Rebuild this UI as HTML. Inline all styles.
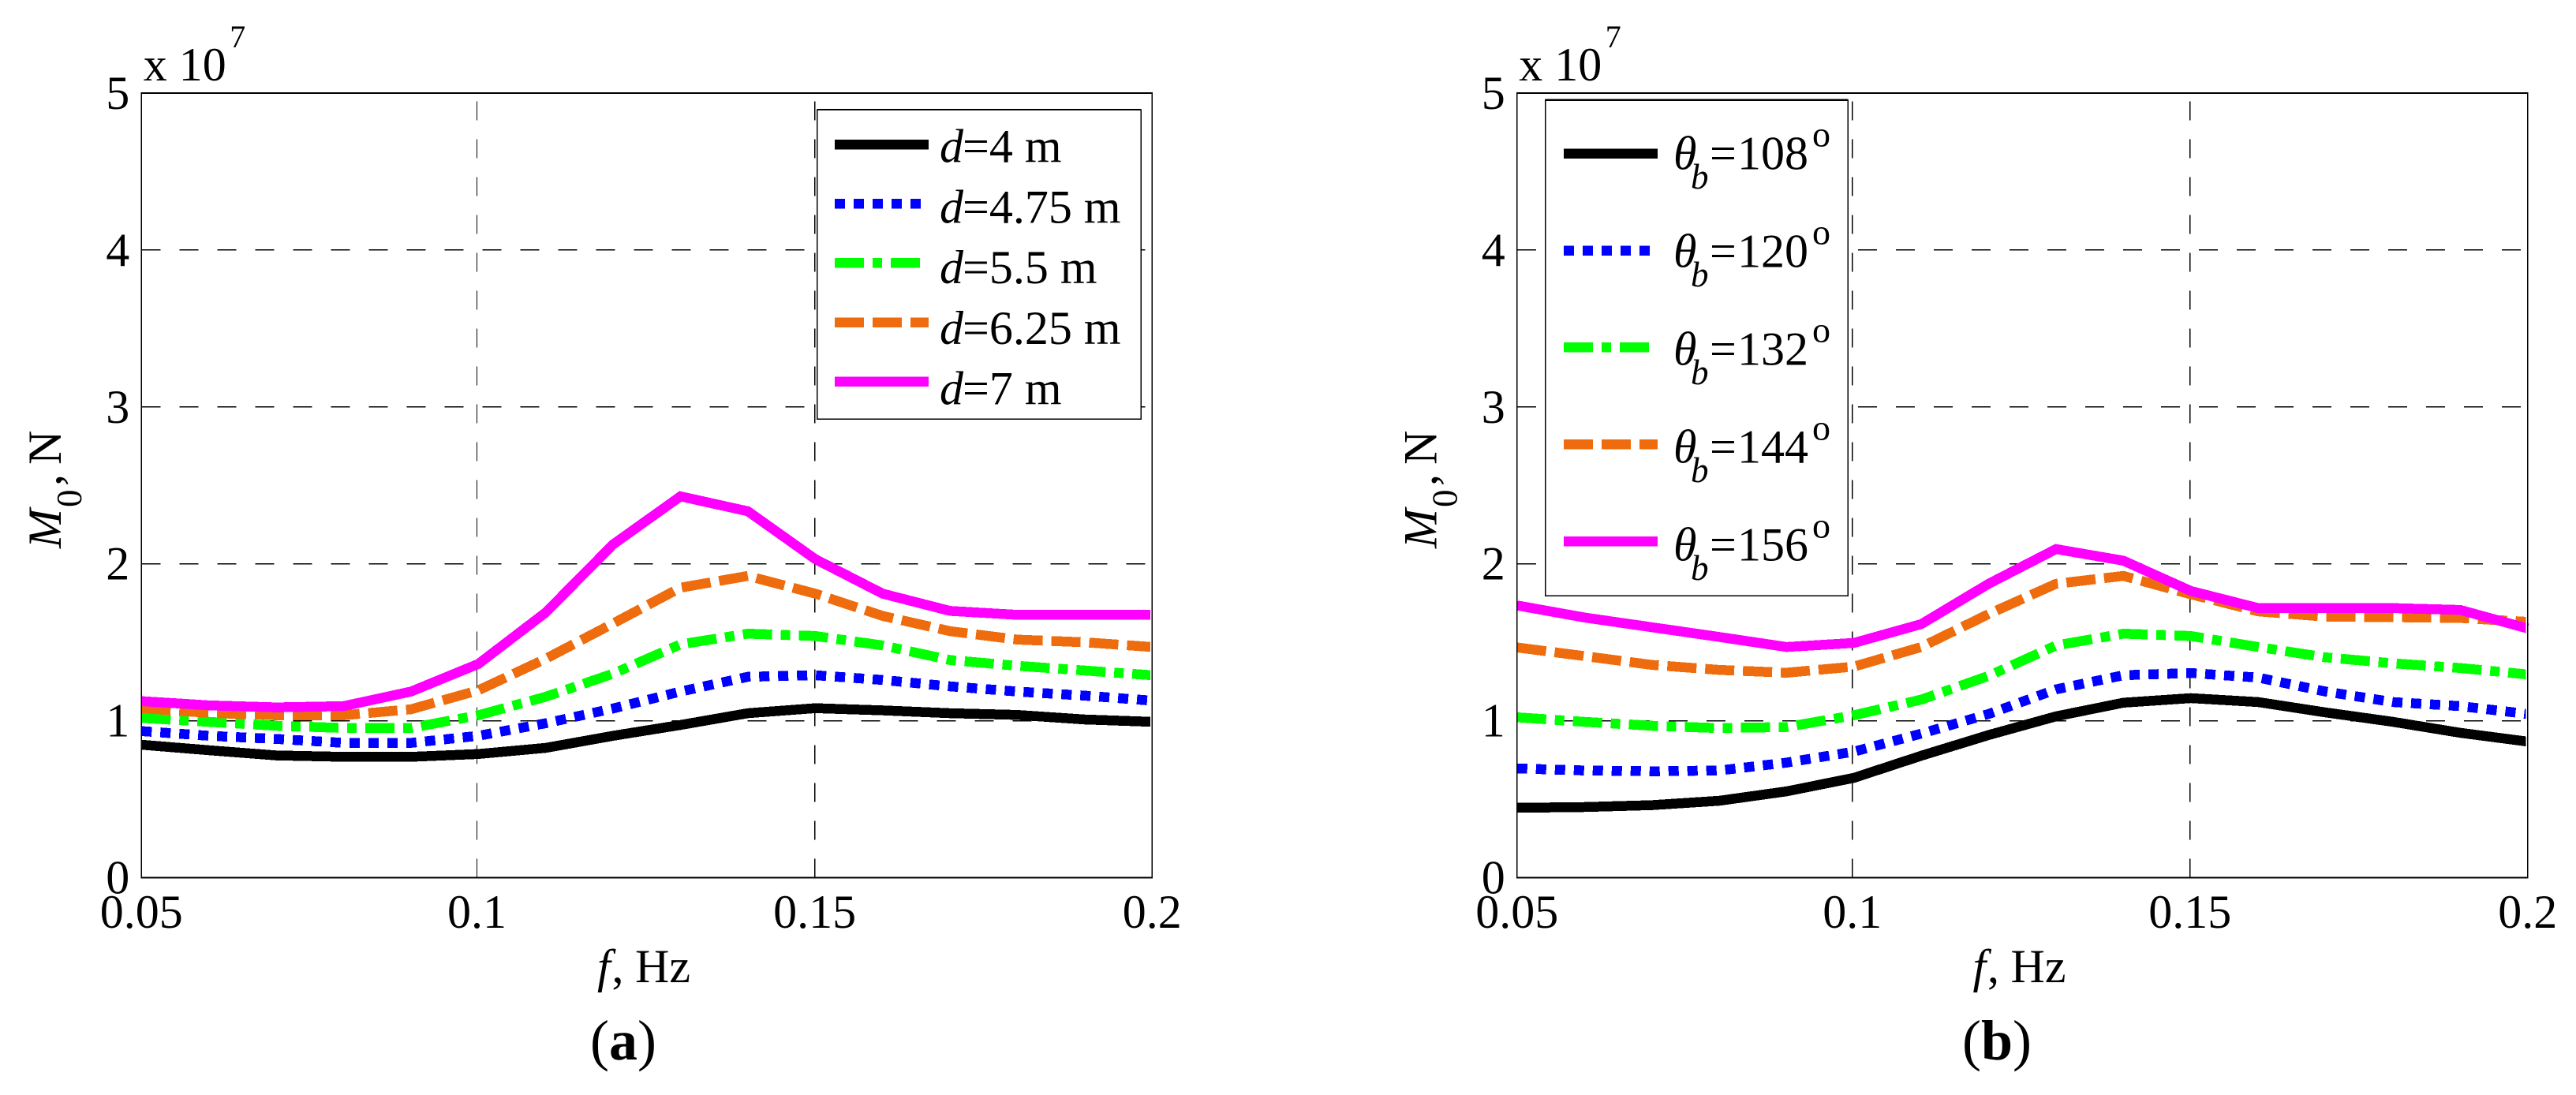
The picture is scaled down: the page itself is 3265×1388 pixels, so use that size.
<!DOCTYPE html>
<html lang="en">
<head>
<meta charset="utf-8">
<title>M0 versus frequency for varying d and theta_b</title>
<style>
  html, body { margin: 0; padding: 0; background: #ffffff; }
  svg { display: block; }
  text { font-family: "Liberation Serif", "Times New Roman", serif; fill: #000000; }
  line, path, rect { shape-rendering: crispEdges; }
</style>
</head>
<body>
<svg id="figure" xmlns="http://www.w3.org/2000/svg" width="3265" height="1388" viewBox="0 0 3265 1388">
  <rect x="0" y="0" width="3265" height="1388" fill="#ffffff"/>
</svg>
<script>
// ---- shared axis data ----
const frequencies = [0.05,0.06,0.07,0.08,0.09,0.10,0.11,0.12,0.13,0.14,0.15,0.16,0.17,0.18,0.19,0.20];
const xTickValues = [0.05,0.1,0.15,0.2];
const xTickLabels = ['0.05','0.1','0.15','0.2'];
const yTickValues = [0,1,2,3,4,5];
const yTickLabels = ['0','1','2','3','4','5'];

// ---- panel (a): M0 in units of 1e7 N, by water depth d ----
const panelALabels = ['4','4.75','5.5','6.25','7'];
const panelA_d4    = [0.847,0.812,0.779,0.770,0.770,0.788,0.827,0.904,0.973,1.048,1.080,1.066,1.048,1.037,1.008,0.993];
const panelA_d475  = [0.934,0.904,0.884,0.859,0.859,0.904,0.984,1.078,1.186,1.280,1.290,1.260,1.219,1.186,1.160,1.128];
const panelA_d55   = [1.018,0.993,0.968,0.954,0.954,1.035,1.153,1.300,1.487,1.555,1.540,1.480,1.387,1.350,1.320,1.290];
const panelA_d625  = [1.080,1.050,1.035,1.035,1.073,1.194,1.395,1.620,1.848,1.923,1.810,1.668,1.571,1.517,1.500,1.470];
const panelA_d7    = [1.125,1.098,1.085,1.093,1.186,1.362,1.690,2.124,2.430,2.335,2.030,1.810,1.700,1.675,1.675,1.675];

// ---- panel (b): M0 in units of 1e7 N, by angle theta_b ----
const panelBLabels = ['108','120','132','144','156'];
const panelB_t108  = [0.445,0.450,0.462,0.490,0.550,0.636,0.777,0.909,1.028,1.115,1.144,1.119,1.053,0.993,0.923,0.867];
const panelB_t120  = [0.696,0.683,0.678,0.683,0.733,0.803,0.918,1.043,1.200,1.290,1.304,1.275,1.186,1.119,1.093,1.043];
const panelB_t132  = [1.022,0.993,0.968,0.953,0.960,1.035,1.135,1.286,1.480,1.555,1.540,1.470,1.404,1.366,1.336,1.295];
const panelB_t144  = [1.467,1.412,1.356,1.324,1.306,1.345,1.470,1.680,1.873,1.923,1.806,1.697,1.663,1.660,1.655,1.630];
const panelB_t156  = [1.735,1.658,1.596,1.534,1.470,1.496,1.616,1.873,2.094,2.020,1.827,1.718,1.718,1.718,1.706,1.588];

// ---- series styling (order: solid black, dotted blue, dash-dot green, dashed orange, solid magenta) ----
const seriesColors = ['#000000','#0000ff','#00ff00','#ee6c0e','#ff00ff'];
const seriesDashes = ['none','13 11','37 11 12 11','37 11','none'];
const seriesKeys   = ['black','blue','green','orange','magenta'];

const NS = 'http://www.w3.org/2000/svg';
const svg = document.getElementById('figure');

function mk(tag, attrs, parent) {
  const n = document.createElementNS(NS, tag);
  for (const k in attrs) n.setAttribute(k, attrs[k]);
  (parent || svg).appendChild(n);
  return n;
}
function span(parent, str, attrs) {
  const t = mk('tspan', attrs, parent);
  t.textContent = str;
  return t;
}

function drawPanel(cfg) {
  const left = cfg.left, right = cfg.left + 1281, top = 118, bottom = 1112.5;
  const xScale = f => left + (f - 0.05) / 0.15 * (right - left);
  const yScale = v => bottom - v / 5 * (bottom - top);

  const g = mk('g', {});
  
  

  // plot background
  const bg = mk('rect', {x:left, y:top, width:right-left, height:bottom-top, fill:'#ffffff'}, g);
  
  

  // grid
  yTickValues.forEach((v) => {
    if (v === 0 || v === 5) return;
    const l = mk('line', {x1:left, x2:right, y1:yScale(v), y2:yScale(v), stroke:'#000', 'stroke-width':1.6, 'stroke-dasharray':'24 24'}, g);
    
    
  });
  xTickValues.forEach((f) => {
    if (f === 0.05 || f === 0.2) return;
    const l = mk('line', {x1:xScale(f) - cfg.gridNudge(f), x2:xScale(f) - cfg.gridNudge(f), y1:bottom, y2:top, stroke:'#000', 'stroke-width':1.4, 'stroke-dasharray':'24 24'}, g);
    
    
  });

  // series
  cfg.series.forEach((values, i) => {
    const d = values.map((v, j) => (j ? 'L' : 'M') + xScale(frequencies[j]).toFixed(2) + ' ' + yScale(v).toFixed(2)).join(' ');
    const p = mk('path', {d:d, fill:'none', stroke:seriesColors[i], 'stroke-width':12.5, 'stroke-dasharray':seriesDashes[i], 'stroke-linejoin':'miter', 'stroke-linecap':'butt'}, g);
    
    
  });
  // white mask so the curves stop just short of the right axis
  const mask = mk('rect', {x:right-2.5, y:top+1, width:2, height:bottom-top-2, fill:'#ffffff'}, g);
  
  

  // axes box
  const at = mk('line', {x1:left-0.7, x2:right+0.7, y1:top, y2:top, stroke:'#000', 'stroke-width':2.2}, g);
  
  
  const ab = mk('line', {x1:left-0.7, x2:right+0.7, y1:bottom, y2:bottom, stroke:'#000', 'stroke-width':2.2}, g);
  
  
  const al = mk('line', {x1:left, x2:left, y1:top, y2:bottom, stroke:'#000', 'stroke-width':1.6}, g);
  
  
  const ar = mk('line', {x1:right, x2:right, y1:top, y2:bottom, stroke:'#000', 'stroke-width':1.6}, g);
  
  

  // tick labels
  xTickValues.forEach((f, i) => {
    const t = mk('text', {x:xScale(f) - cfg.gridNudge(f), y:1176, 'font-size':60, 'text-anchor':'middle'}, g);
    t.textContent = xTickLabels[i];
    
    
  });
  yTickValues.forEach((v, i) => {
    const t = mk('text', {x:left-15, y:yScale(v)+20, 'font-size':60, 'text-anchor':'end'}, g);
    t.textContent = yTickLabels[i];
    
    
  });

  // exponent
  const ex = mk('text', {x:left+2.5, y:102, 'font-size':60}, g);
  ex.textContent = 'x 10';
  
  
  const ex7 = mk('text', {x:left+112, y:60, 'font-size':40}, g);
  ex7.textContent = '7';
  
  

  // y label
  const yl = mk('text', {transform:'translate(' + (left-102.5) + ',696) rotate(-90)', 'font-size':60}, g);
  span(yl, 'M', {x:1, y:0, 'font-style':'italic'});
  span(yl, '0', {x:53, y:26, 'font-size':45});
  span(yl, ',', {x:80, y:0});
  span(yl, 'N', {x:107, y:0});
  
  

  // x label
  const xo = left - 179.3;
  const xl = mk('text', {y:1245, 'font-size':60}, g);
  span(xl, 'f', {x:757+xo, y:1245, 'font-style':'italic'});
  span(xl, ',', {x:775.5+xo, y:1245});
  span(xl, 'Hz', {x:805+xo, y:1245});
  
  

  // caption
  const cap = mk('text', {x:cfg.captionX, y:1343, 'font-size':72}, g);
  span(cap, '(', {});
  span(cap, cfg.caption, {'font-weight':'bold'});
  span(cap, ')', {});
  
  

  // legend
  const lg = mk('g', {}, g);
  
  
  const L = cfg.legend;
  const box = mk('rect', {x:L.x, y:L.y, width:L.w, height:L.h, fill:'#ffffff', stroke:'#000', 'stroke-width':1.5}, lg);
  
  
  const boxTop = mk('line', {x1:L.x, x2:L.x+L.w, y1:L.y, y2:L.y, stroke:'#000', 'stroke-width':2.2}, lg);
  
  

  cfg.labels.forEach((label, i) => {
    const yLine = L.lineY + L.lineStep * i;
    const yText = L.textY + L.textStep * i;
    const sw = mk('line', {x1:L.lineX1, x2:L.lineX2, y1:yLine, y2:yLine, stroke:seriesColors[i], 'stroke-width':12.5, 'stroke-dasharray':seriesDashes[i]}, lg);
    
    
    const t = mk('text', {y:yText, 'font-size':60}, lg);
    cfg.legendText(t, label, yText);
    
    
  });
}

drawPanel({
  id: 'panel-a',
  left: 179.3,
  gridNudge: f => (f === 0.1 ? 1.8 : (f === 0.15 ? 0.7 : 0)),
  series: [panelA_d4, panelA_d475, panelA_d55, panelA_d625, panelA_d7],
  labels: panelALabels,
  caption: 'a',
  captionX: 748,
  legend: {x:1035.5, y:139, w:410.5, h:392, lineX1:1058, lineX2:1177, lineY:183, lineStep:75.2, textY:205.7, textStep:76.75},
  legendText: (t, label, y) => {
    span(t, 'd', {x:1191, y:y, 'font-style':'italic'});
    span(t, '=' + label + ' m', {x:1220, y:y});
  }
});

drawPanel({
  id: 'panel-b',
  left: 1922.8,
  gridNudge: f => (f === 0.1 ? 2 : (f === 0.15 ? 1 : 0)),
  series: [panelB_t108, panelB_t120, panelB_t132, panelB_t144, panelB_t156],
  labels: panelBLabels,
  caption: 'b',
  captionX: 2487,
  legend: {x:1958.7, y:126.8, w:383.3, h:628.4, lineX1:1982, lineX2:2101, lineY:194.6, lineStep:122.9, textY:214.7, textStep:124},
  legendText: (t, label, y) => {
    span(t, '\u03B8', {x:2121, y:y, 'font-style':'italic'});
    span(t, 'b', {x:2143, y:y+24.5, 'font-size':45, 'font-style':'italic'});
    span(t, '=', {x:2167, y:y});
    span(t, label, {x:2202, y:y});
    span(t, 'o', {x:2297, y:y-29, 'font-size':46});
  }
});
</script>
</body>
</html>
